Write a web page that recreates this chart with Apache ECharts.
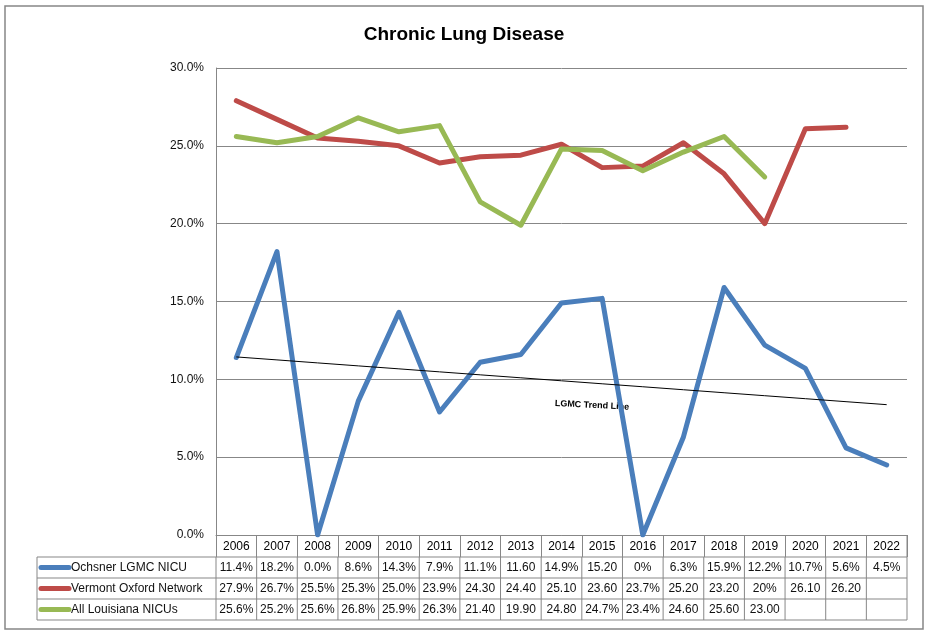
<!DOCTYPE html>
<html><head><meta charset="utf-8">
<script src="https://cdn.jsdelivr.net/npm/echarts@6/dist/echarts.min.js"></script>
<style>html,body{margin:0;padding:0;background:#fff}#c{width:928px;height:637px}</style>
</head><body><div id="c"></div>
<script>
const years = ['2006','2007','2008','2009','2010','2011','2012','2013','2014','2015','2016','2017','2018','2019','2020','2021','2022'];
const seriesNames = ['Ochsner LGMC NICU','Vermont Oxford Network','All Louisiana NICUs'];
const ochsner   = [11.4,18.2,0.0,8.6,14.3,7.9,11.1,11.6,14.9,15.2,0,6.3,15.9,12.2,10.7,5.6,4.5];
const vermont   = [27.9,26.7,25.5,25.3,25.0,23.9,24.3,24.4,25.1,23.6,23.7,25.2,23.2,20,26.1,26.2,null];
const louisiana = [25.6,25.2,25.6,26.8,25.9,26.3,21.4,19.9,24.8,24.7,23.4,24.6,25.6,23.0,null,null,null];
const ochsnerLabels   = ['11.4%','18.2%','0.0%','8.6%','14.3%','7.9%','11.1%','11.60','14.9%','15.20','0%','6.3%','15.9%','12.2%','10.7%','5.6%','4.5%'];
const vermontLabels   = ['27.9%','26.7%','25.5%','25.3%','25.0%','23.9%','24.30','24.40','25.10','23.60','23.7%','25.20','23.20','20%','26.10','26.20',''];
const louisianaLabels = ['25.6%','25.2%','25.6%','26.8%','25.9%','26.3%','21.40','19.90','24.80','24.7%','23.4%','24.60','25.60','23.00','','',''];
const yMin = 0, yMax = 30, yStep = 5;
const colors = ['#4A7EBB','#BE4B48','#98B954'];
const trendLabel = 'LGMC Trend Line';

// least-squares trend of the Ochsner series
const n = ochsner.length;
const mx = (n - 1) / 2;
const my = ochsner.reduce((a, b) => a + b, 0) / n;
let sxy = 0, sxx = 0;
ochsner.forEach((v, i) => { sxy += (i - mx) * (v - my); sxx += (i - mx) * (i - mx); });
const slope = sxy / sxx;
const trend = ochsner.map((v, i) => +(my + slope * (i - mx)).toFixed(3));

const FONT = 'Liberation Sans, Arial, sans-serif';
const chart = echarts.init(document.getElementById('c'), null, {renderer: 'canvas'});
const lineSeries = (name, data, color) => ({
  name, type: 'line', data, showSymbol: false, symbol: 'none', connectNulls: false,
  lineStyle: {color, width: 5, cap: 'round', join: 'round'}, itemStyle: {color},
  animation: false, z: 3
});
chart.setOption({
  animation: false,
  title: {text: 'Chronic Lung Disease', left: 'center', top: 20,
    textStyle: {fontFamily: FONT, fontSize: 19, fontWeight: 'bold', color: '#000'}},
  grid: {left: 216, right: 21, top: 68, bottom: 102, containLabel: false},
  xAxis: {type: 'category', data: years, boundaryGap: true,
    axisLine: {show: true, lineStyle: {color: '#878787', width: 1}},
    axisTick: {show: true, length: 22, alignWithLabel: false, lineStyle: {color: '#878787'}},
    axisLabel: {margin: 6, fontFamily: FONT, fontSize: 12, color: '#000'},
    splitLine: {show: false}},
  yAxis: {type: 'value', min: yMin, max: yMax, interval: yStep,
    axisLine: {show: true, lineStyle: {color: '#878787', width: 1}},
    axisTick: {show: false},
    axisLabel: {margin: 12, fontFamily: FONT, fontSize: 12, color: '#111',
      formatter: v => v.toFixed(1) + '%'},
    splitLine: {show: true, lineStyle: {color: '#878787', width: 1}}},
  series: [
    lineSeries(seriesNames[0], ochsner, colors[0]),
    lineSeries(seriesNames[1], vermont, colors[1]),
    lineSeries(seriesNames[2], louisiana, colors[2]),
    {name: 'trend', type: 'line', data: trend, showSymbol: false, symbol: 'none',
      lineStyle: {color: '#000', width: 1}, z: 4, animation: false}
  ]
});

// build the data table under the axis
const cx = years.map((y, i) => chart.convertToPixel({xAxisIndex: 0}, i));
const colW = cx[1] - cx[0];
const tableLeft = 37;
const plotLeft = cx[0] - colW / 2;
const plotRight = cx[n - 1] + colW / 2;
const y0 = chart.convertToPixel({yAxisIndex: 0}, 0);
const headerBottom = y0 + 22;
const rowH = 21;
const rowLabels = [ochsnerLabels, vermontLabels, louisianaLabels];
const tableBottom = headerBottom + rowH * 3;
const g = [];
const ln = (x1, y1, x2, y2) => g.push({type: 'line', shape: {x1, y1, x2, y2}, silent: true,
  style: {stroke: '#878787', lineWidth: 1}});
// horizontal lines
for (let r = 0; r <= 3; r++) ln(tableLeft, headerBottom + r * rowH, plotRight, headerBottom + r * rowH);
// vertical lines
ln(tableLeft, headerBottom, tableLeft, tableBottom);
for (let i = 0; i <= n; i++) {
  const x = plotLeft + i * colW;
  ln(x, headerBottom, x, tableBottom);
}
ln(plotRight, y0, plotRight, headerBottom);
rowLabels.forEach((labels, r) => {
  const cy = headerBottom + r * rowH + rowH / 2;
  g.push({type: 'line', shape: {x1: 41, y1: cy, x2: 69, y2: cy}, silent: true,
    style: {stroke: colors[r], lineWidth: 5, lineCap: 'round'}});
  g.push({type: 'text', x: 71, y: cy, silent: true,
    style: {text: seriesNames[r], font: '12px ' + FONT, fill: '#111', textAlign: 'left', textVerticalAlign: 'middle'}});
  labels.forEach((t, i) => {
    g.push({type: 'text', x: cx[i], y: cy, silent: true,
      style: {text: t, font: '12px ' + FONT, fill: '#111', textAlign: 'center', textVerticalAlign: 'middle'}});
  });
});
// trend label
g.push({type: 'text', x: 555, y: 399, rotation: -0.05, silent: true,
  style: {text: trendLabel, font: 'bold 9px ' + FONT, fill: '#000', textAlign: 'left', textVerticalAlign: 'top'}});
// outer chart border
g.push({type: 'rect', shape: {x: 5, y: 6, width: 918, height: 623}, silent: true, z: -1,
  style: {fill: 'none', stroke: '#868686', lineWidth: 1.5}});
chart.setOption({graphic: g});
</script>
</body></html>
